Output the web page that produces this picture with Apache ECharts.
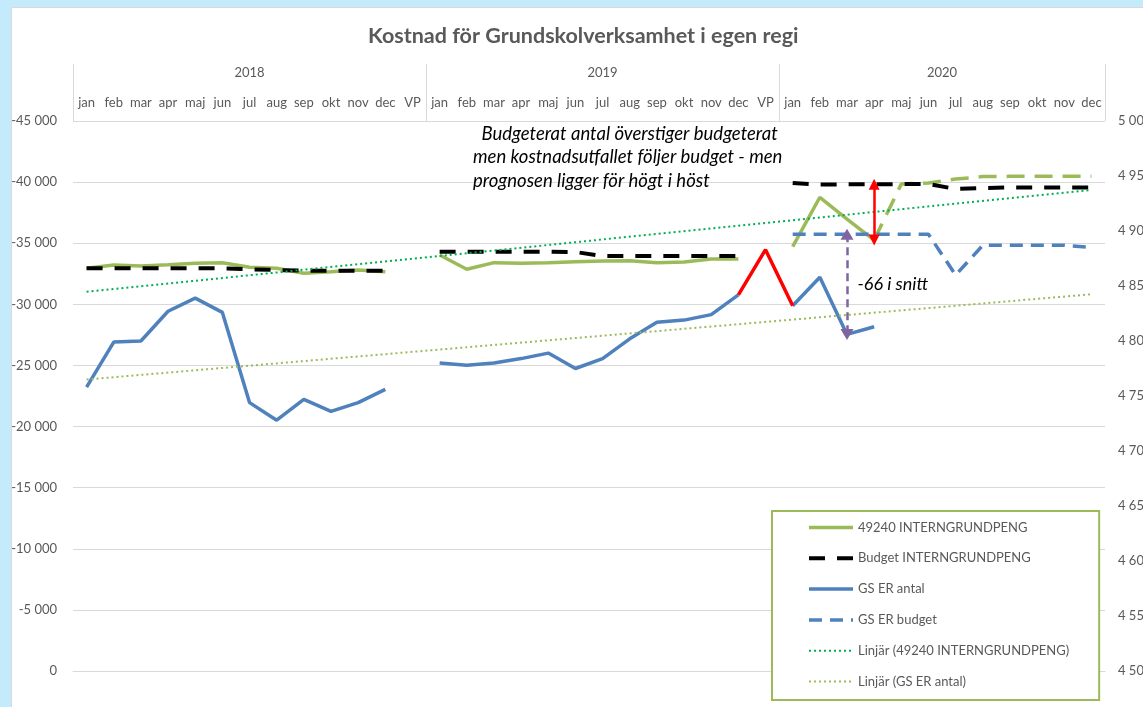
<!DOCTYPE html>
<html>
<head>
<meta charset="utf-8">
<script src="https://cdn.jsdelivr.net/npm/echarts@6/dist/echarts.min.js"></script>
<style>
  html, body { margin: 0; padding: 0; background: #c3ebfc; overflow: hidden; }
  #panel { position: absolute; left: 11px; top: 7px; width: 1200px; height: 800px; background: #fff; border: 1px solid #d9d9d9; }
  #chart { position: absolute; left: 0; top: 0; width: 1143px; height: 707px; }
</style>
</head>
<body>
<div id="panel"></div>
<div id="chart"></div>
<script>
// kategorier
var yearLabels = ['2018', '2019', '2020'];
var yearSpans = [13, 13, 12];
var monthLabels = [
    'jan', 'feb', 'mar', 'apr', 'maj', 'jun', 'jul', 'aug', 'sep', 'okt', 'nov', 'dec', 'VP',
    'jan', 'feb', 'mar', 'apr', 'maj', 'jun', 'jul', 'aug', 'sep', 'okt', 'nov', 'dec', 'VP',
    'jan', 'feb', 'mar', 'apr', 'maj', 'jun', 'jul', 'aug', 'sep', 'okt', 'nov', 'dec'
];

// vänster axel (kr)
var grundpeng = [
    -32950, -33220, -33140, -33240, -33360, -33410, -33030, -32950, -32540, -32670, -32810, -32670, null,
    -34040, -32870, -33410, -33360, -33410, -33490, -33550, -33570, -33410, -33460, -33710, -33710, null,
    -34720, -38760, -36980, -35260, null, null, null, null, null, null, null, null
];
var grundpengPrognos = [
    null, null, null, null, null, null, null, null, null, null, null, null, null,
    null, null, null, null, null, null, null, null, null, null, null, null, null,
    null, null, null, -35260, -39850, -39930, -40250, -40450, -40470, -40470, -40470, -40470
];
var budgetGrund = [
    -32950, -32950, -32950, -32950, -32950, -32950, -32870, -32810, -32750, -32750, -32750, -32750, null,
    -34310, -34310, -34310, -34310, -34310, -34280, -33950, -33950, -33950, -33950, -33950, -33950, null,
    -39930, -39800, -39820, -39820, -39840, -39840, -39440, -39520, -39560, -39560, -39560, -39560
];
var trendGrund = [-31030, -39360];

// höger axel (antal)
var gsAntal = [
    4758, 4799, 4800, 4827, 4839, 4826, 4744, 4728, 4747, 4736, 4744, 4756, null,
    4780, 4778, 4780, 4784, 4789, 4775, 4784, 4802, 4817, 4819, 4824, 4842, null,
    4832, 4858, 4806, 4813, null, null, null, null, null, null, null, null
];
var gsAntalVP = [
    null, null, null, null, null, null, null, null, null, null, null, null, null,
    null, null, null, null, null, null, null, null, null, null, null, 4842, 4883,
    4832, null, null, null, null, null, null, null, null, null, null, null
];
var gsBudget = [
    null, null, null, null, null, null, null, null, null, null, null, null, null,
    null, null, null, null, null, null, null, null, null, null, null, null, null,
    4897, 4897, 4897, 4897, 4897, 4897, 4860, 4887, 4887, 4887, 4887, 4885
];
var trendAntal = [4765, 4842.5];

var noteLines = [
    '\u2002Budgeterat antal överstiger budgeterat',
    'men kostnadsutfallet följer budget - men',
    'prognosen ligger för högt i höst'
];
var diffText = '-66 i snitt';
var redIdx = 29;   // apr 2020
var purpleIdx = 28; // mar 2020

var FONT = 'Lato, "Liberation Sans", sans-serif';
var GREY = '#595959';

function fmt(v) {
    var s = Math.abs(v).toString().replace(/\B(?=(\d{3})+(?!\d))/g, ' ');
    return (v < 0 ? '-' : '') + s;
}

// år-etiketter och avgränsare
var yearEdges = [0];
var yearCenters = [];
yearSpans.forEach(function (n, i) {
    yearCenters.push(yearEdges[i] + n / 2);
    yearEdges.push(yearEdges[i] + n);
});
var last = monthLabels.length - 1;

var myChart = echarts.init(document.getElementById('chart'));

var option = {
    animation: false,
    textStyle: { fontFamily: FONT },
    title: {
        text: 'Kostnad för Grundskolverksamhet i egen regi',
        left: 363,
        top: 20,
        textStyle: { fontFamily: FONT, fontSize: 21.5, fontWeight: 'bold', color: GREY }
    },
    grid: { left: 73, right: 38, top: 121, bottom: 36, containLabel: false, outerBoundsMode: 'none' },
    legend: {
        orient: 'vertical',
        left: 772,
        top: 511,
        padding: [10, 30, 12, 35],
        itemWidth: 44,
        itemHeight: 14,
        itemGap: 17.8,
        backgroundColor: '#fff',
        borderColor: '#9bbb59',
        borderWidth: 2,
        itemStyle: { opacity: 0, borderWidth: 0 },
        lineStyle: { width: 'inherit' },
        textStyle: { color: GREY, fontSize: 13, fontFamily: FONT },
        data: ['49240 INTERNGRUNDPENG', 'Budget INTERNGRUNDPENG', 'GS ER antal', 'GS ER budget',
            'Linjär (49240 INTERNGRUNDPENG)', 'Linjär (GS ER antal)']
    },
    graphic: [{
        type: 'text',
        left: 473,
        top: 122,
        z: 10,
        style: {
            text: noteLines.join('\n'),
            font: 'italic 18.5px ' + FONT,
            fill: '#000',
            lineHeight: 23.5
        }
    }],
    xAxis: [{
        type: 'category',
        position: 'top',
        data: monthLabels,
        boundaryGap: true,
        axisLine: { lineStyle: { color: '#d9d9d9' } },
        axisTick: { show: false },
        axisLabel: { interval: 0, margin: 12, color: GREY, fontSize: 13, fontFamily: FONT }
    }, {
        type: 'value',
        position: 'top',
        min: 0,
        max: yearEdges[yearEdges.length - 1],
        axisLine: { show: false },
        splitLine: { show: false },
        axisTick: {
            show: true,
            customValues: yearEdges,
            length: 57,
            lineStyle: { color: '#d9d9d9' }
        },
        axisLabel: {
            customValues: yearCenters,
            margin: 42,
            color: GREY,
            fontSize: 13,
            fontFamily: FONT,
            formatter: function (v) {
                var i = yearCenters.indexOf(v);
                return i >= 0 ? yearLabels[i] : '';
            }
        }
    }],
    yAxis: [{
        type: 'value',
        inverse: true,
        min: -45000,
        max: 0,
        interval: 5000,
        axisLine: { show: false },
        axisTick: { show: false },
        splitLine: { lineStyle: { color: '#d9d9d9' } },
        axisLabel: { margin: 16, color: GREY, fontSize: 13, fontFamily: FONT, formatter: fmt }
    }, {
        type: 'value',
        min: 4500,
        max: 5000,
        interval: 50,
        axisLine: { show: false },
        axisTick: { show: false },
        splitLine: { show: false },
        axisLabel: { margin: 13, color: GREY, fontSize: 13, fontFamily: FONT, formatter: fmt }
    }],
    series: [{
        name: '49240 INTERNGRUNDPENG',
        type: 'line',
        yAxisIndex: 0,
        data: grundpeng,
        symbol: 'none',
        color: '#9bbb59',
        lineStyle: { width: 3.5, color: '#9bbb59' }
    }, {
        name: 'Prognos',
        type: 'line',
        yAxisIndex: 0,
        data: grundpengPrognos,
        symbol: 'none',
        color: '#9bbb59',
        lineStyle: { width: 3.5, color: '#9bbb59', type: [18, 10] }
    }, {
        name: 'Budget INTERNGRUNDPENG',
        type: 'line',
        yAxisIndex: 0,
        data: budgetGrund,
        symbol: 'none',
        color: '#000',
        lineStyle: { width: 4, color: '#000', type: [16, 12] },
        markLine: {
            silent: true,
            symbol: ['triangle', 'triangle'],
            symbolSize: [11, 11],
            label: { show: false },
            lineStyle: { color: '#ff0000', width: 2.5, type: 'solid' },
            data: [[
                { coord: [redIdx, budgetGrund[redIdx]] },
                { coord: [redIdx, grundpeng[redIdx]] }
            ]]
        }
    }, {
        name: 'GS ER antal',
        type: 'line',
        yAxisIndex: 1,
        data: gsAntal,
        symbol: 'none',
        color: '#4f81bd',
        lineStyle: { width: 3.5, color: '#4f81bd' }
    }, {
        name: 'VP',
        type: 'line',
        yAxisIndex: 1,
        data: gsAntalVP,
        symbol: 'none',
        color: '#ff0000',
        lineStyle: { width: 3.5, color: '#ff0000' }
    }, {
        name: 'GS ER budget',
        type: 'line',
        yAxisIndex: 1,
        data: gsBudget,
        symbol: 'none',
        color: '#4f81bd',
        lineStyle: { width: 3.5, color: '#4f81bd', type: [13, 8] },
        markLine: {
            silent: true,
            symbol: ['triangle', 'triangle'],
            symbolSize: [13, 11],
            label: { show: false },
            lineStyle: { color: '#8064a2', width: 2.5, type: [8, 5] },
            data: [[
                { coord: [purpleIdx, gsBudget[purpleIdx]] },
                { coord: [purpleIdx, gsAntal[purpleIdx]] }
            ]]
        },
        markPoint: {
            silent: true,
            symbol: 'circle',
            symbolSize: 1,
            itemStyle: { color: 'rgba(0,0,0,0)' },
            label: {
                show: true,
                position: 'right',
                distance: 10,
                formatter: diffText,
                fontStyle: 'italic',
                fontSize: 18,
                color: '#000',
                fontFamily: FONT
            },
            data: [{ coord: [purpleIdx, (gsBudget[purpleIdx] + gsAntal[purpleIdx]) / 2] }]
        }
    }, {
        name: 'Linjär (49240 INTERNGRUNDPENG)',
        type: 'line',
        yAxisIndex: 0,
        data: [[0, trendGrund[0]], [last, trendGrund[1]]],
        symbol: 'none',
        color: '#00b050',
        lineStyle: { width: 2, color: '#00b050', type: [2, 3] }
    }, {
        name: 'Linjär (GS ER antal)',
        type: 'line',
        yAxisIndex: 1,
        data: [[0, trendAntal[0]], [last, trendAntal[1]]],
        symbol: 'none',
        color: '#9bbb59',
        lineStyle: { width: 2, color: '#9bbb59', type: [2, 3] }
    }]
};

myChart.setOption(option);

window.addEventListener('resize', function () {
    myChart.resize();
});
</script>
</body>
</html>
